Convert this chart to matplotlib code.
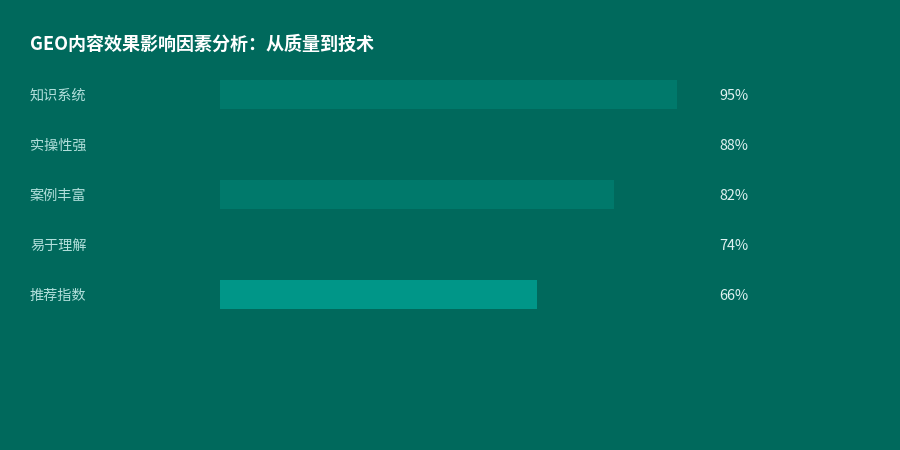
import matplotlib
matplotlib.use('Agg')
import matplotlib.pyplot as plt
from matplotlib.transforms import blended_transform_factory

plt.rcParams['font.family'] = ['Noto Sans CJK SC', 'DejaVu Sans']

categories = ['知识系统', '实操性强', '案例丰富', '易于理解', '推荐指数']
values = [95, 88, 82, 74, 66]
bar_colors = ['#00796B', '#00695C', '#00796B', '#00695C', '#009688']
title = 'GEO内容效果影响因素分析：从质量到技术'

bg = '#00695C'
W, H = 900, 450

fig = plt.figure(figsize=(W / 100, H / 100), dpi=100, facecolor=bg)

# bar area: x 220..701 px, rows 50 px apart, first bar top at 80 px
row_px = 50
bar_h = 0.58
top_px, left_px, right_px = 80, 220, 701
n = len(categories)
span = (n - 1) + bar_h
ax = fig.add_axes([left_px / W, 1 - (top_px + span * row_px) / H,
                   (right_px - left_px) / W, span * row_px / H])
ax.set_facecolor(bg)
ax.barh(range(n), values, height=bar_h, color=bar_colors, linewidth=0)
ax.set_xlim(0, 100)
ax.set_ylim(n - 1 + bar_h / 2, -bar_h / 2)
ax.axis('off')

tr = blended_transform_factory(fig.transFigure, ax.transData)
for i, (c, v) in enumerate(zip(categories, values)):
    fig.text(30 / W, 0, c, transform=tr, color='#B2DFDB', fontsize=10.2,
             va='center_baseline', ha='left').set_y(i)
    fig.text(719 / W, 0, f'{v}%', transform=tr, color='#E0F2F1', fontsize=10.4,
             va='center_baseline', ha='left').set_y(i)

fig.text(30 / W, 1 - 44 / H, title, color='white', fontsize=13,
         fontweight='bold', va='center', ha='left')

fig.savefig('out.png', dpi=100, facecolor=bg)
